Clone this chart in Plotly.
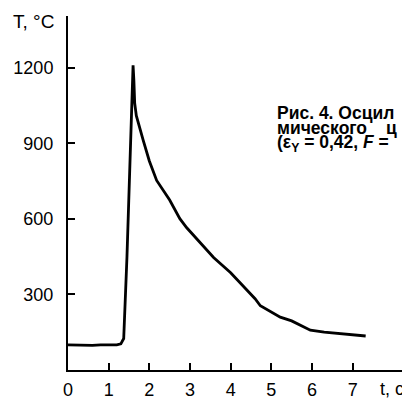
import plotly.graph_objects as go

# Data: time (s) and temperature (°C)
t_values = [0.0, 0.2, 0.4, 0.6, 0.8, 1.0, 1.2, 1.3, 1.37, 1.45, 1.52, 1.6,
            1.62, 1.64, 1.68, 1.75, 1.85, 2.0, 2.18, 2.5, 2.75, 2.92, 3.2,
            3.58, 4.0, 4.4, 4.6, 4.73, 5.0, 5.22, 5.5, 5.8, 5.96, 6.3, 6.7,
            7.0, 7.32]
T_values = [100, 99, 101, 98, 100, 99, 100, 104, 125, 450, 800, 1210,
            1150, 1060, 1010, 965, 912, 830, 753, 675, 601, 565, 515,
            447, 386, 315, 283, 255, 232, 210, 195, 170, 158, 150, 145,
            140, 135]

x_ticks = [0, 1, 2, 3, 4, 5, 6, 7]
y_ticks = [300, 600, 900, 1200]

caption_lines = ["Рис. 4. Осцил",
                 "мического",
                 "ц",
                 "(ε<sub>Y</sub> = 0,42, <i>F</i> ="]

FONT = "Liberation Sans, Arial, sans-serif"

# page body has an 8 px margin: figure is placed at (8, 8) in the window
W, H = 402, 390
L, T, B = 60, 8, 28
PW, PH = W - L, H - T - B
XMAX = 8.41
YMAX = 1406


def px_to_x(wx):
    return (wx - 8 - L) / PW * XMAX


def px_to_y(wy):
    return (H - B - (wy - 8)) / PH * YMAX


fig = go.Figure()
fig.add_trace(go.Scatter(x=t_values, y=T_values, mode="lines",
                         line=dict(color="black", width=2.8),
                         hoverinfo="skip", showlegend=False))

fig.update_layout(
    width=W, height=H,
    margin=dict(l=L, r=0, t=T, b=B, autoexpand=False),
    paper_bgcolor="white", plot_bgcolor="white",
    font=dict(family=FONT, size=18, color="black"),
    showlegend=False,
    xaxis=dict(range=[0, XMAX], showgrid=False, zeroline=False,
               showline=True, linecolor="black", linewidth=2,
               ticks="inside", ticklen=7, tickwidth=2, tickcolor="black",
               tickvals=x_ticks, ticktext=[str(v) for v in x_ticks],
               tickfont=dict(size=18), ticklabelstandoff=2,
               automargin=False),
    yaxis=dict(range=[0, YMAX], showgrid=False, zeroline=False,
               showline=True, linecolor="black", linewidth=2,
               ticks="inside", ticklen=7, tickwidth=2, tickcolor="black",
               tickvals=y_ticks, ticktext=[str(v) for v in y_ticks],
               tickfont=dict(size=18), ticklabelstandoff=9,
               automargin=False),
)

# Axis titles (positioned in window pixels via paper coords)
fig.add_annotation(text="T, °C", xref="paper", yref="paper",
                   x=(11 - 8 - L) / PW, y=(H - B - (21 - 8)) / PH,
                   xanchor="left", yanchor="middle",
                   showarrow=False, font=dict(size=19))
fig.add_annotation(text="t, c", xref="paper", yref="paper",
                   x=(378 - 8 - L) / PW, y=(H - B - (389 - 8)) / PH,
                   xanchor="left", yanchor="middle",
                   showarrow=False, font=dict(size=18))

# Caption (clipped at right edge like the reference)
cap_font = dict(size=17.5, family=FONT, color="black")
ys = [113, 128, 128, 143]
xs = [275, 275, 384, 275]
for txt, xp, yp in zip(caption_lines, xs, ys):
    fig.add_annotation(text="<b>" + txt + "</b>", xref="x", yref="y",
                       x=px_to_x(xp), y=px_to_y(yp),
                       xanchor="left", yanchor="middle", showarrow=False,
                       font=cap_font)

fig.write_html("out.html")
